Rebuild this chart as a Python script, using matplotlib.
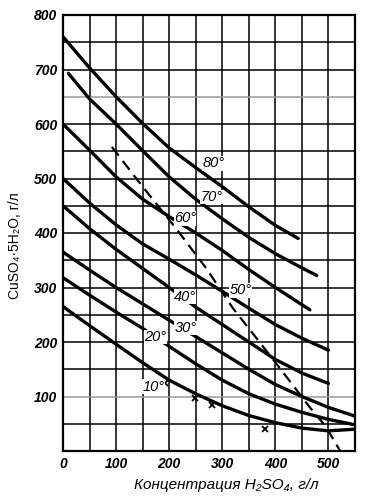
#!/usr/bin/env python3

import matplotlib
matplotlib.use("Agg")
import matplotlib.pyplot as plt

plt.rcParams['font.family'] = ['Liberation Sans', 'DejaVu Sans']

# H2SO4 concentration (g/l) along each isotherm, and CuSO4*5H2O solubility (g/l)
x_std = [0, 50, 100, 150, 200, 250, 300, 350, 400, 450, 500, 550]

t80_x = [0, 50, 100, 150, 200, 250, 300, 350, 400, 443]
t80_y = [760, 703, 650, 601, 556, 520, 485, 448, 414, 390]

t70_x = [10, 50, 100, 150, 200, 250, 300, 350, 400, 450, 478]
t70_y = [693, 646, 600, 551, 503, 462, 426, 392, 362, 336, 322]

t60_x = [0, 50, 100, 150, 200, 250, 300, 350, 400, 465]
t60_y = [600, 552, 503, 462, 430, 400, 368, 333, 300, 259]

t50_x = [0, 50, 100, 150, 200, 250, 300, 350, 400, 450, 500]
t50_y = [500, 455, 415, 380, 352, 323, 293, 262, 232, 207, 185]

t40_x = [0, 50, 100, 150, 200, 250, 300, 350, 400, 450, 500]
t40_y = [450, 408, 370, 335, 300, 264, 232, 200, 168, 143, 124]

t30_y = [365, 332, 300, 270, 240, 210, 180, 150, 122, 100, 80, 64]
t20_y = [318, 286, 255, 225, 192, 160, 130, 105, 86, 71, 58, 48]
t10_y = [265, 230, 196, 162, 130, 105, 83, 65, 52, 42, 37, 40]

# dashed boundary line
dash_x = [92, 150, 210, 270, 320, 370, 410, 465, 495, 522]
dash_y = [558, 485, 412, 335, 262, 200, 150, 80, 45, 0]

# small cross marks on the lower curves
mark_x = [192, 248, 280, 380]
mark_y = [124, 97, 84, 41]

labels = ["80°", "70°", "60°", "50°", "40°", "30°", "20°", "10°"]
label_x = [283, 280, 230, 334, 230, 231, 174, 170]
label_y = [528, 466, 427, 295, 283, 226, 209, 118]

curves = [(t80_x, t80_y), (t70_x, t70_y), (t60_x, t60_y), (t50_x, t50_y),
          (t40_x, t40_y), (x_std, t30_y), (x_std, t20_y), (x_std, t10_y)]

fig = plt.figure(figsize=(3.81, 5.03), dpi=100)
ax = fig.add_axes([63 / 381, 52 / 503, 292 / 381, 436 / 503])

ax.set_xlim(0, 550)
ax.set_ylim(0, 800)

# grid every 50 units, two lines look washed out in the scan
for gx in range(50, 550, 50):
    ax.axvline(gx, color="black", lw=1.1, zorder=1)
for gy in range(50, 800, 50):
    col = "0.6" if gy in (100, 650) else "black"
    ax.axhline(gy, color=col, lw=1.1, zorder=1)

for cx, cy in curves:
    ax.plot(cx, cy, color="black", lw=2.4, solid_capstyle="round",
            solid_joinstyle="round", zorder=3)

ax.plot(dash_x, dash_y, color="black", lw=1.6, dashes=(5, 3), zorder=3)
ax.plot(mark_x, mark_y, "x", color="black", ms=4, mew=1.3, zorder=4)

for txt, lx, ly in zip(labels, label_x, label_y):
    ax.text(lx, ly, txt, fontsize=10.5, style="italic", ha="center",
            va="center", zorder=5,
            bbox=dict(facecolor="white", edgecolor="none", pad=0.2))

ax.set_xticks([0, 100, 200, 300, 400, 500])
ax.set_yticks([100, 200, 300, 400, 500, 600, 700, 800])
ax.tick_params(length=0, labelsize=10, pad=4)
for lab in ax.get_xticklabels() + ax.get_yticklabels():
    lab.set_fontweight("bold")
    lab.set_fontstyle("italic")

for sp in ax.spines.values():
    sp.set_linewidth(1.6)

ax.set_xlabel("Концентрация H₂SO₄, г/л", fontsize=11, style="italic")
ax.xaxis.set_label_coords(0.56, -0.062)
ax.set_ylabel("CuSO₄·5H₂O, г/л", fontsize=10)
ax.yaxis.set_label_coords(-0.14, 0.47)

fig.savefig("out.png", dpi=100)
